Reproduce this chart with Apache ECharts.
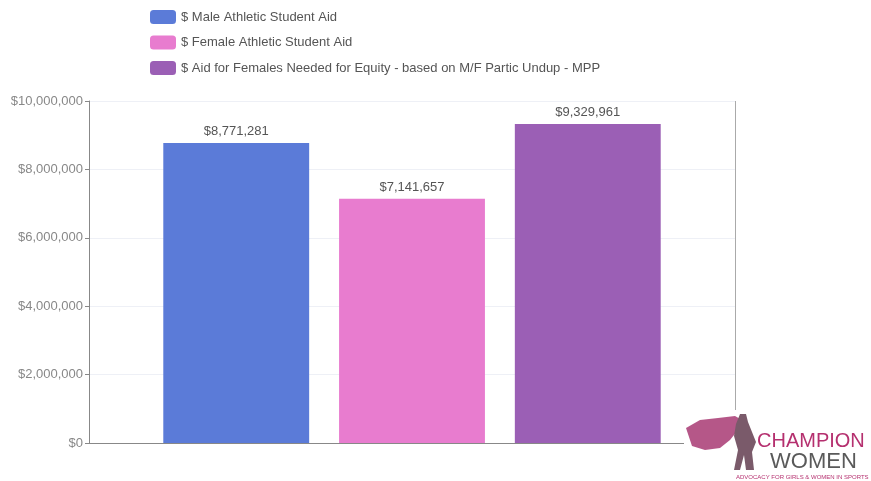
<!DOCTYPE html>
<html><head><meta charset="utf-8">
<script src="https://cdn.jsdelivr.net/npm/echarts@6/dist/echarts.min.js"></script>
<style>html,body{margin:0;padding:0;background:#fff}#c{width:871px;height:481px}</style>
</head><body><div id="c"></div>
<script>
const categories = [''];
const seriesNames = ['$ Male Athletic Student Aid', '$ Female Athletic Student Aid', '$ Aid for Females Needed for Equity - based on M/F Partic Undup - MPP'];
const maleAid = [8771281];
const femaleAid = [7141657];
const equityAid = [9329961];
const colors = ['#5b7bd8', '#e87ccf', '#9b5fb5'];

const fmt = v => '$' + Math.round(v).toLocaleString('en-US');
const chart = echarts.init(document.getElementById('c'));
const mk = (name, data, i) => ({
  name, type: 'bar', data,
  itemStyle: { color: colors[i] },
  barGap: '20.5%', barCategoryGap: '23%',
  label: { show: true, position: 'top', formatter: p => fmt(p.value), color: '#555', fontSize: 13, fontFamily: 'Arial, Liberation Sans, sans-serif', distance: 5 }
});
chart.setOption({
  animation: false,
  textStyle: { fontFamily: 'Arial, Liberation Sans, sans-serif' },
  color: colors,
  legend: {
    orient: 'vertical', left: 145, top: 5, itemWidth: 26, itemHeight: 14, itemGap: 11.5,
    textStyle: { color: '#555', fontSize: 13 },
    icon: 'roundRect',
    data: seriesNames
  },
  grid: { left: 89, right: 136, top: 101, bottom: 38 },
  xAxis: { type: 'category', data: categories, axisLine: { lineStyle: { color: '#888' } }, axisTick: { show: false }, axisLabel: { show: false } },
  yAxis: {
    type: 'value', min: 0, max: 10000000, interval: 2000000,
    axisLine: { show: true, lineStyle: { color: '#888' } },
    axisTick: { show: true, length: 4, lineStyle: { color: '#888' } },
    axisLabel: { formatter: v => fmt(v), color: '#888', fontSize: 13, margin: 6 },
    splitLine: { lineStyle: { color: '#eef0f6' } }
  },
  series: [mk(seriesNames[0], maleAid, 0), mk(seriesNames[1], femaleAid, 1), mk(seriesNames[2], equityAid, 2)],
  graphic: [
    { type: 'line', shape: { x1: 735.5, y1: 101, x2: 735.5, y2: 443 }, style: { stroke: '#aaa', lineWidth: 1 }, z: 1 },
    { type: 'rect', shape: { x: 684, y: 410, width: 187, height: 71 }, style: { fill: '#fff' }, z: 10 },
    { type: 'polygon', shape: { points: [[686,428],[700,420],[718,418],[735,416],[742,420],[738,430],[730,440],[720,448],[705,450],[692,446]] }, style: { fill: '#a83a73', opacity: 0.85 }, z: 11 },
    { type: 'polygon', shape: { points: [[740,414],[746,414],[748,422],[752,432],[756,442],[752,452],[754,470],[746,470],[744,455],[740,470],[734,470],[738,450],[734,436],[736,424]] }, style: { fill: '#7a5a6a' }, z: 12 },
    { type: 'text', style: { x: 757, y: 431, text: 'CHAMPION', fill: '#b5306f', font: '20px Arial, Liberation Sans, sans-serif' }, z: 12 },
    { type: 'text', style: { x: 770, y: 451, text: 'WOMEN', fill: '#5a5a5a', font: '22px Arial, Liberation Sans, sans-serif' }, z: 12 },
    { type: 'text', style: { x: 736, y: 474, text: 'ADVOCACY FOR GIRLS & WOMEN IN SPORTS', fill: '#b5306f', font: '6px Arial, Liberation Sans, sans-serif' }, z: 12 }
  ]
});
</script></body></html>
